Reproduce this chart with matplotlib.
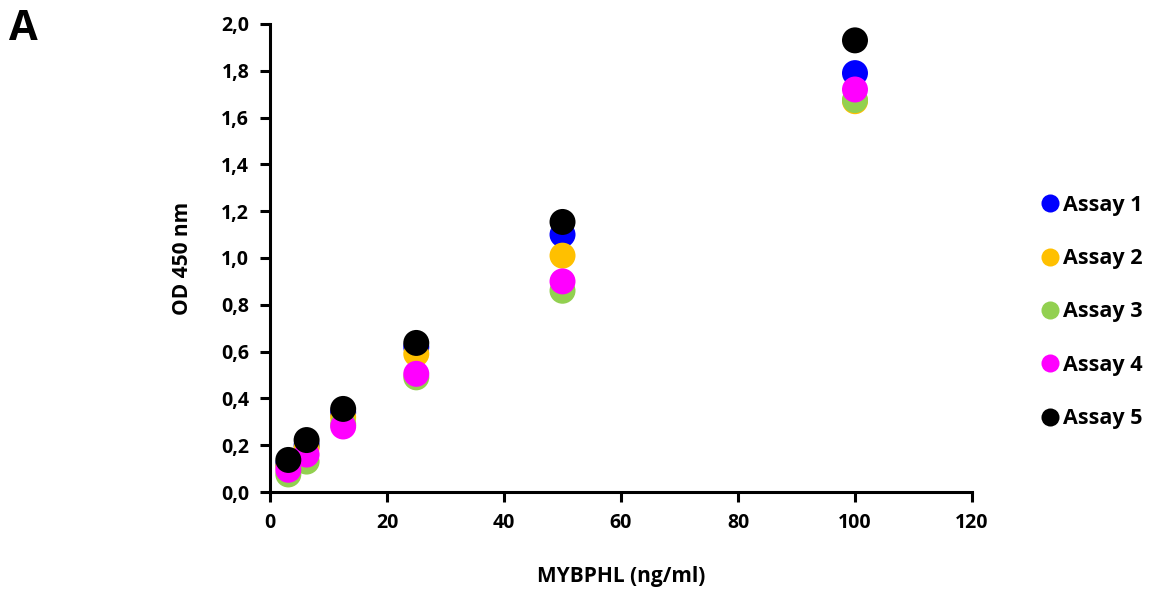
import matplotlib
matplotlib.use("Agg")
import matplotlib.pyplot as plt
from matplotlib.ticker import FuncFormatter, MultipleLocator
from matplotlib.lines import Line2D

conc = [3.125, 6.25, 12.5, 25, 50, 100]
assay1 = [0.12, 0.20, 0.34, 0.62, 1.10, 1.79]
assay2 = [0.11, 0.19, 0.32, 0.59, 1.01, 1.67]
assay3 = [0.075, 0.13, 0.29, 0.49, 0.86, 1.675]
assay4 = [0.095, 0.16, 0.28, 0.505, 0.90, 1.72]
assay5 = [0.137, 0.222, 0.355, 0.637, 1.154, 1.93]
labels = ["Assay 1", "Assay 2", "Assay 3", "Assay 4", "Assay 5"]
colors = ["#0000FF", "#FFC000", "#92D050", "#FF00FF", "#000000"]

plt.rcParams['font.family'] = ['Open Sans', 'DejaVu Sans']

fig = plt.figure(figsize=(11.66, 5.95), dpi=100)
ax = fig.add_axes([0.2316, 0.1731, 0.602, 0.7866])

for ys, c in zip([assay1, assay2, assay3, assay4, assay5], colors):
    ax.scatter(conc, ys, s=350, color=c, edgecolors='none', zorder=3)

ax.set_xlim(0, 120)
ax.set_ylim(0, 2.0)
ax.xaxis.set_major_locator(MultipleLocator(20))
ax.yaxis.set_major_locator(MultipleLocator(0.2))
ax.yaxis.set_major_formatter(FuncFormatter(lambda v, p: f"{v:.1f}".replace('.', ',')))
ax.xaxis.set_major_formatter(FuncFormatter(lambda v, p: f"{v:.0f}"))
for s in ['top', 'right']:
    ax.spines[s].set_visible(False)
for s in ['left', 'bottom']:
    ax.spines[s].set_linewidth(2.2)
    ax.spines[s].set_color('black')
ax.tick_params(axis='both', which='major', length=7, width=2.2, direction='out',
               labelsize=14, pad=8)
for lbl in ax.get_xticklabels() + ax.get_yticklabels():
    lbl.set_fontweight('bold')

ax.set_xlabel("MYBPHL (ng/ml)", fontsize=15, fontweight='bold', labelpad=24)
ax.set_ylabel("OD 450 nm", fontsize=15, fontweight='bold', labelpad=20)

handles = [Line2D([0], [0], marker='o', linestyle='none', markersize=13,
                  markerfacecolor=c, markeredgecolor='none') for c in colors]
leg = fig.legend(handles, labels, loc='upper left', bbox_to_anchor=(0.875, 0.705),
                 frameon=False, handletextpad=0.1, labelspacing=1.5,
                 prop={'size': 15.5, 'weight': 'bold'}, handlelength=1.0)

fig.text(0.008, 0.985, "A", fontsize=30, fontweight='bold', va='top', ha='left')

fig.savefig("out.png", dpi=100)
